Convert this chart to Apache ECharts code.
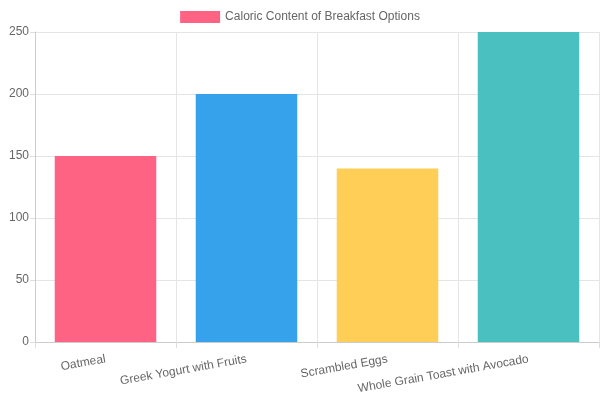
<!DOCTYPE html>
<html>
<head>
<meta charset="utf-8">
<script src="https://cdn.jsdelivr.net/npm/echarts@6/dist/echarts.min.js"></script>
<style>
  html, body { margin: 0; padding: 0; background: #fff; }
  #main { width: 600px; height: 400px; }
</style>
</head>
<body>
<div id="main"></div>
<script>
// breakfast options and their calories
const categories = ['Oatmeal', 'Greek Yogurt with Fruits', 'Scrambled Eggs', 'Whole Grain Toast with Avocado'];
const calories = [150, 200, 140, 250];
const barColors = ['#FF6384', '#36A2EB', '#FFCE56', '#4BC0C0'];
const seriesName = 'Caloric Content of Breakfast Options';

const myChart = echarts.init(document.getElementById('main'));

myChart.setOption({
  textStyle: { fontFamily: 'Liberation Sans, Arial, sans-serif' },
  legend: {
    top: 6,
    left: 'center',
    icon: 'rect',
    itemWidth: 40,
    itemHeight: 12,
    itemGap: 8,
    textStyle: { color: '#666', fontSize: 12 },
    data: [seriesName]
  },
  grid: { left: 35, right: 1, top: 32, bottom: 58, containLabel: false },
  xAxis: {
    type: 'category',
    data: categories,
    axisLine: { lineStyle: { color: '#cccccc' } },
    axisTick: { show: true, length: 6, lineStyle: { color: '#dddddd' } },
    splitLine: { show: true, lineStyle: { color: '#e5e5e5' } },
    axisLabel: { rotate: 10, margin: 17, color: '#666', fontSize: 12, interval: 0 }
  },
  yAxis: {
    type: 'value',
    min: 0,
    max: 250,
    interval: 50,
    axisLine: { show: true, lineStyle: { color: '#cccccc' } },
    axisTick: { show: true, length: 5, lineStyle: { color: '#dddddd' } },
    splitLine: { lineStyle: { color: '#e5e5e5' } },
    axisLabel: { color: '#666', fontSize: 12, margin: 6 }
  },
  series: [{
    name: seriesName,
    type: 'bar',
    barWidth: '72%',
    itemStyle: { color: barColors[0] },
    data: calories.map((v, i) => ({ value: v, itemStyle: { color: barColors[i] } }))
  }]
});
</script>
</body>
</html>
